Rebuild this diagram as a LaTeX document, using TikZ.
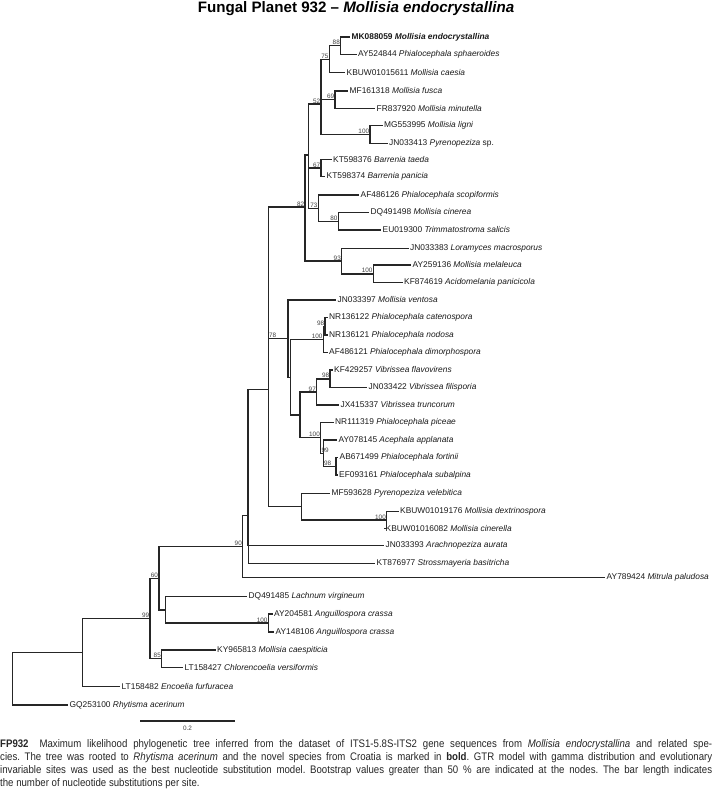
\documentclass[tikz,border=0pt]{standalone}
\usepackage{fontspec}
\setmainfont{Liberation Sans}
\newfontfamily\capfont[FakeStretch=0.88]{Liberation Sans}
\usetikzlibrary{positioning,calc}
\frenchspacing

\begin{document}
\begin{tikzpicture}[x=1bp, y=-1bp,
br/.style={line width=1.2bp, black!85},
leaf/.style={anchor=west, inner sep=1.5bp, font=\fontsize{8.4}{10}\selectfont, black!90},
bs/.style={anchor=south east, inner sep=0.7bp, font=\fontsize{6.4}{7}\selectfont, black!75},
bsr/.style={bs, anchor=south west},
capline/.style={anchor=base west, inner sep=0pt, font=\capfont\fontsize{11}{13}\selectfont, black!85}
]
\useasboundingbox (0,0) rectangle (712,791);

\node[font=\fontsize{15.2}{18}\selectfont\bfseries] (title) at (356,9) {Fungal Planet 932 -- \textit{Mollisia endocrystallina}};

% leaves
\node[leaf] (mk088059) at (350,37) {\textbf{MK088059 \textit{Mollisia endocrystallina}}};
\node[leaf] (ay524844) at (356.5,54.5) {AY524844 \textit{Phialocephala sphaeroides}};
\node[leaf] (kbuw01015611) at (345,72.7) {KBUW01015611 \textit{Mollisia caesia}};
\node[leaf] (mf161318) at (348,91) {MF161318 \textit{Mollisia fusca}};
\node[leaf] (fr837920) at (375,108.3) {FR837920 \textit{Mollisia minutella}};
\node[leaf] (mg553995) at (382.5,125.7) {MG553995 \textit{Mollisia ligni}};
\node[leaf] (jn033413) at (387.5,143.3) {JN033413 \textit{Pyrenopeziza} sp.};
\node[leaf] (kt598376) at (331.5,159.3) {KT598376 \textit{Barrenia taeda}};
\node[leaf] (kt598374) at (325,176.7) {KT598374 \textit{Barrenia panicia}};
\node[leaf] (af486126) at (359,195) {AF486126 \textit{Phialocephala scopiformis}};
\node[leaf] (dq491498) at (369,212.3) {DQ491498 \textit{Mollisia cinerea}};
\node[leaf] (eu019300) at (381,230) {EU019300 \textit{Trimmatostroma salicis}};
\node[leaf] (jn033383) at (408.5,248.3) {JN033383 \textit{Loramyces macrosporus}};
\node[leaf] (ay259136) at (411,265) {AY259136 \textit{Mollisia melaleuca}};
\node[leaf] (kf874619) at (402.5,282.7) {KF874619 \textit{Acidomelania panicicola}};
\node[leaf] (jn033397) at (336,300) {JN033397 \textit{Mollisia ventosa}};
\node[leaf] (nr136122) at (327.5,317.7) {NR136122 \textit{Phialocephala catenospora}};
\node[leaf] (nr136121) at (327.5,335) {NR136121 \textit{Phialocephala nodosa}};
\node[leaf] (af486121) at (327.5,352.7) {AF486121 \textit{Phialocephala dimorphospora}};
\node[leaf] (kf429257) at (332.5,370) {KF429257 \textit{Vibrissea flavovirens}};
\node[leaf] (jn033422) at (367,387.7) {JN033422 \textit{Vibrissea filisporia}};
\node[leaf] (jx415337) at (339,405) {JX415337 \textit{Vibrissea truncorum}};
\node[leaf] (nr111319) at (333.5,422.3) {NR111319 \textit{Phialocephala piceae}};
\node[leaf] (ay078145) at (337,440) {AY078145 \textit{Acephala applanata}};
\node[leaf] (ab671499) at (338,457.3) {AB671499 \textit{Phialocephala fortinii}};
\node[leaf] (ef093161) at (337.5,475) {EF093161 \textit{Phialocephala subalpina}};
\node[leaf] (mf593628) at (330,493.3) {MF593628 \textit{Pyrenopeziza velebitica}};
\node[leaf] (kbuw01019176) at (398.5,511.7) {KBUW01019176 \textit{Mollisia dextrinospora}};
\node[leaf] (kbuw01016082) at (384,528.3) {KBUW01016082 \textit{Mollisia cinerella}};
\node[leaf] (jn033393) at (384,545.7) {JN033393 \textit{Arachnopeziza aurata}};
\node[leaf] (kt876977) at (375,563.3) {KT876977 \textit{Strossmayeria basitricha}};
\node[leaf] (ay789424) at (605,577.3) {AY789424 \textit{Mitrula paludosa}};
\node[leaf] (dq491485) at (247,596.7) {DQ491485 \textit{Lachnum virgineum}};
\node[leaf] (ay204581) at (272.5,614) {AY204581 \textit{Anguillospora crassa}};
\node[leaf] (ay148106) at (274,632) {AY148106 \textit{Anguillospora crassa}};
\node[leaf] (ky965813) at (215.5,650) {KY965813 \textit{Mollisia caespiticia}};
\node[leaf] (lt158427) at (183,667.3) {LT158427 \textit{Chlorencoelia versiformis}};
\node[leaf] (lt158482) at (120,686.7) {LT158482 \textit{Encoelia furfuracea}};
\node[leaf] (gq253100) at (68,705) {GQ253100 \textit{Rhytisma acerinum}};

% inner nodes
\coordinate (n88) at (340.7,45.75);
\coordinate (n75) at (329.3,59.2);
\coordinate (n69) at (335,99.7);
\coordinate (n100a) at (370,134.5);
\coordinate (n52) at (321,104);
\coordinate (n67) at (321,168);
\coordinate (n80) at (338.3,221.2);
\coordinate (n73) at (318.3,208.1);
\coordinate (nA) at (308.3,155);
\coordinate (n100b) at (373.3,273.9);
\coordinate (n93) at (341.7,261);
\coordinate (n82) at (305,207);
\coordinate (n98a) at (325,326.4);
\coordinate (n100c) at (323.3,339.5);
\coordinate (n98b) at (330,378.9);
\coordinate (n97) at (316.7,392);
\coordinate (n98c) at (336,466.2);
\coordinate (n99) at (323.3,453.1);
\coordinate (n100d) at (320.7,437.7);
\coordinate (nY) at (300,414.9);
\coordinate (nV) at (290.7,377.2);
\coordinate (nW) at (288,338.6);
\coordinate (n100e) at (386.7,520);
\coordinate (nQ) at (301.7,506.7);
\coordinate (nIn) at (268.3,272.7);
\coordinate (nBig) at (268.3,389.7);
\coordinate (nA1) at (248,467.7);
\coordinate (nA2) at (248.3,515.5);
\coordinate (n90) at (242.7,546.4);
\coordinate (n100f) at (268.3,623);
\coordinate (nL) at (165.7,609.9);
\coordinate (n60) at (159,578.1);
\coordinate (n85) at (161.7,658.7);
\coordinate (n99b) at (150,618.4);
\coordinate (nR1) at (82.7,652.5);
\coordinate (root) at (12.3,678.8);

% branches
\draw[br] (n88) |- (mk088059.west) (n88) |- (ay524844.west);
\draw[br] (n75) |- (n88) (n75) |- (kbuw01015611.west);
\draw[br] (n69) |- (mf161318.west) (n69) |- (fr837920.west);
\draw[br] (n100a) |- (mg553995.west) (n100a) |- (jn033413.west);
\draw[br] (n52) |- (n75) (n52) |- (n69) (n52) |- (n100a);
\draw[br] (n67) |- (kt598376.west) (n67) |- (kt598374.west);
\draw[br] (n80) |- (dq491498.west) (n80) |- (eu019300.west);
\draw[br] (n73) |- (af486126.west) (n73) |- (n80);
\draw[br] (nA) |- (n52) (nA) |- (n67) (nA) |- (n73);
\draw[br] (n100b) |- (ay259136.west) (n100b) |- (kf874619.west);
\draw[br] (n93) |- (jn033383.west) (n93) |- (n100b);
\draw[br] (n82) |- (nA) (n82) |- (n93);
\draw[br] (n98a) |- (nr136122.west) (n98a) |- (nr136121.west);
\draw[br] (n100c) |- (n98a) (n100c) |- (af486121.west);
\draw[br] (n98b) |- (kf429257.west) (n98b) |- (jn033422.west);
\draw[br] (n97) |- (n98b) (n97) |- (jx415337.west);
\draw[br] (n98c) |- (ab671499.west) (n98c) |- (ef093161.west);
\draw[br] (n99) |- (ay078145.west) (n99) |- (n98c);
\draw[br] (n100d) |- (nr111319.west) (n100d) |- (n99);
\draw[br] (nY) |- (n97) (nY) |- (n100d);
\draw[br] (nV) |- (n100c) (nV) |- (nY);
\draw[br] (nW) |- (jn033397.west) (nW) |- (nV);
\draw[br] (n100e) |- (kbuw01019176.west) (n100e) |- (kbuw01016082.west);
\draw[br] (nQ) |- (mf593628.west) (nQ) |- (n100e);
\draw[br] (nIn) |- (n82) (nIn) |- (nW);
\draw[br] (nBig) |- (nIn) (nBig) |- (nQ);
\draw[br] (nA1) |- (nBig) (nA1) |- (jn033393.west);
\draw[br] (nA2) |- (nA1) (nA2) |- (kt876977.west);
\draw[br] (n90) |- (nA2) (n90) |- (ay789424.west);
\draw[br] (n100f) |- (ay204581.west) (n100f) |- (ay148106.west);
\draw[br] (nL) |- (dq491485.west) (nL) |- (n100f);
\draw[br] (n60) |- (n90) (n60) |- (nL);
\draw[br] (n85) |- (ky965813.west) (n85) |- (lt158427.west);
\draw[br] (n99b) |- (n60) (n99b) |- (n85);
\draw[br] (nR1) |- (n99b) (nR1) |- (lt158482.west);
\draw[br] (root) |- (nR1) (root) |- (gq253100.west);

% bootstrap values
\node[bs] at (n88) {88};
\node[bs] at (n75) {75};
\node[bs] at (n52) {52};
\node[bs] at (n69) {69};
\node[bs] at (n100a) {100};
\node[bs] at (n67) {67};
\node[bs] at (n73) {73};
\node[bs] at (n80) {80};
\node[bs] at (n82) {82};
\node[bs] at (n93) {93};
\node[bs] at (n100b) {100};
\node[bs] at (n98a) {98};
\node[bs] at (n100c) {100};
\node[bs] at (n98b) {98};
\node[bs] at (n97) {97};
\node[bs] at (n100d) {100};
\node[bsr] at (n100d |- n99) {99};
\node[bsr] at (n99 |- n98c) {98};
\node[bsr] at (nIn |- nW) {78};
\node[bs] at (n100e) {100};
\node[bs] at (n90) {90};
\node[bsr] at (n99b |- n60) {60};
\node[bs] at (n99b) {99};
\node[bs] at (n85) {85};
\node[bs] at (n100f) {100};

% scale bar
\coordinate (sbl) at (140,721);
\coordinate (sbr) at (235,721);
\draw[br] (sbl) -- (sbr);
\node[bs, anchor=north] (sblab) at ($(sbl)!0.5!(sbr)+(0,4)$) {0.2};

% caption
\node[capline] (cap1) at (0,747.5) {\makebox[712bp][s]{\textbf{FP932}\quad Maximum likelihood phylogenetic tree inferred from the dataset of ITS1-5.8S-ITS2 gene sequences from \textit{Mollisia endocrystallina} and related spe-}};
\node[capline] (cap2) at (0,760.5) {\makebox[712bp][s]{cies. The tree was rooted to \textit{Rhytisma acerinum} and the novel species from Croatia is marked in \textbf{bold}. GTR model with gamma distribution and evolutionary}};
\node[capline] (cap3) at (0,773.5) {\makebox[712bp][s]{invariable sites was used as the best nucleotide substitution model. Bootstrap values greater than 50 \% are indicated at the nodes. The bar length indicates}};
\node[capline] (cap4) at (0,786.5) {the number of nucleotide substitutions per site.};
\end{tikzpicture}
\end{document}
